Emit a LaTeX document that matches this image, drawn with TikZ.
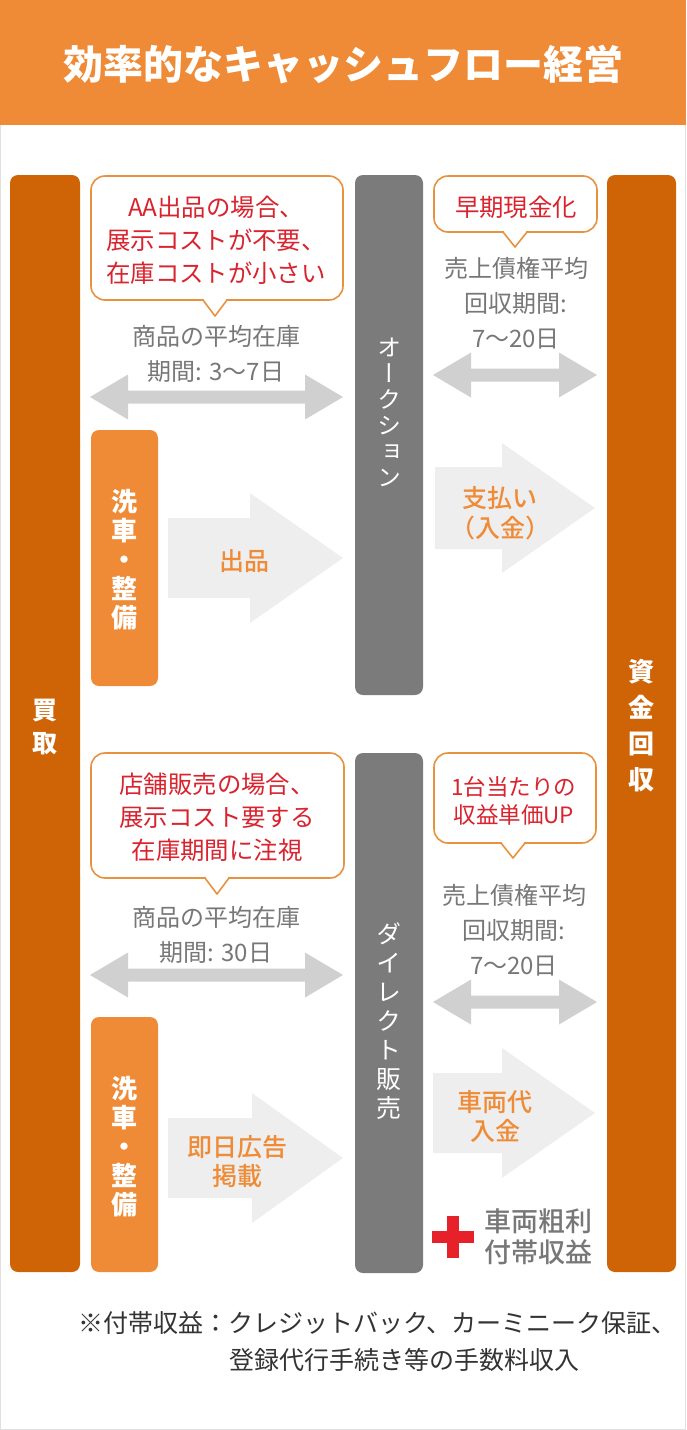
\documentclass[tikz,border=0pt]{standalone}
\usepackage{fontspec}
\setmainfont{Noto Sans CJK JP}
\newfontfamily\jpv[RawFeature=+vert]{Noto Sans CJK JP}
\newfontfamily\jpmed{Noto Sans CJK JP Medium}
\definecolor{hdorange}{HTML}{EF8B36}
\definecolor{deeporange}{HTML}{CF6407}
\definecolor{colgray}{HTML}{7B7B7B}
\definecolor{txtgray}{HTML}{777777}
\definecolor{notered}{HTML}{D9232E}
\definecolor{bubbleline}{HTML}{E8913E}
\definecolor{dblgray}{HTML}{D0D0D0}
\definecolor{flowgray}{HTML}{EEEEEE}
\definecolor{plusred}{HTML}{E62129}

\begin{document}
\begin{tikzpicture}[x=0.5pt,y=-0.5pt,line join=round,
  bar/.style={rounded corners=4pt},
  bubble/.style={draw=bubbleline,line width=0.8pt,fill=white},
  note/.style={text=notered,align=center,inner sep=0pt,font=\fontsize{12.2}{16.5}\selectfont},
  period/.style={text=txtgray,align=center,inner sep=0pt,font=\fontsize{12}{17.5}\selectfont},
  vlabel/.style={text=white,align=center,inner sep=0pt},
  flow/.style={text=hdorange,align=center,inner sep=0pt,font=\jpmed\fontsize{12.5}{14.5}\selectfont}]
\useasboundingbox (0,0) rectangle (686,1430);
\fill[hdorange] (0,0) rectangle (686,125);
\draw[black!12,line width=0.5pt] (0.5,125) -- (0.5,1429.5) -- (685.5,1429.5) -- (685.5,125);
\node[text=white,inner sep=0pt,font=\bfseries\fontsize{20}{24}\selectfont] (title) at (343,65) {効率的なキャッシュフロー経営};

\fill[deeporange,bar] (10,175) rectangle (80,1272);
\fill[deeporange,bar] (607,175) rectangle (676,1272);
\fill[colgray,bar] (355,175) rectangle (423,695);
\fill[colgray,bar] (355,753) rectangle (423,1273);
\fill[hdorange,bar] (91,430) rectangle (158,686);
\fill[hdorange,bar] (91,1017) rectangle (158,1272);
\node[vlabel,font=\bfseries\fontsize{12.5}{16.5}\selectfont] (buy) at (45,727) {買\\取};
\node[vlabel,font=\bfseries\fontsize{13}{18}\selectfont] (fund) at (641,726) {資\\金\\回\\収};
\node[vlabel,font=\jpv\fontsize{12}{13}\selectfont] (auction) at (389,412) {オ\\ー\\ク\\シ\\ョ\\ン};
\node[vlabel,font=\jpv\fontsize{12.5}{14.5}\selectfont] (direct) at (389,1021) {ダ\\イ\\レ\\ク\\ト\\販\\売};
\node[vlabel,font=\bfseries\fontsize{13}{14.5}\selectfont] (prepA) at (124,560) {洗\\車\\・\\整\\備};
\node[vlabel,font=\bfseries\fontsize{13}{14.5}\selectfont] (prepB) at (124,1147) {洗\\車\\・\\整\\備};

\draw[bubble,rounded corners=7pt] (91,176) rectangle (343,300);
\fill[white] (204,298) rectangle (226,302);
\filldraw[bubble] (203,300) -- (215,316) -- (227,300);
\node[note] (costA) at (216,240) {AA出品の場合、\\展示コストが不要、\\在庫コストが小さい};
\draw[bubble,rounded corners=7pt] (434,176) rectangle (597,232);
\fill[white] (504,230) rectangle (526,234);
\filldraw[bubble] (503,232) -- (515,247) -- (527,232);
\node[note] (cashA) at (516,207) {早期現金化};
\draw[bubble,rounded corners=7pt] (91,753) rectangle (344,878);
\fill[white] (206,876) rectangle (228,880);
\filldraw[bubble] (205,878) -- (217,894) -- (229,878);
\node[note] (costB) at (217,817) {店舗販売の場合、\\展示コスト要する\\在庫期間に注視};
\draw[bubble,rounded corners=7pt] (434,753) rectangle (596,843);
\fill[white] (502,841) rectangle (524,845);
\filldraw[bubble] (501,843) -- (513,858) -- (525,843);
\node[note,font=\fontsize{11.25}{14}\selectfont] (cashB) at (514,801) {1台当たりの\\収益単価UP};

\node[period] (stockA) at (216,354) {商品の平均在庫\\期間: 3〜7日};
\node[period] (termA) at (516,303) {売上債権平均\\回収期間:\\7〜20日};
\node[period] (stockB) at (216,935) {商品の平均在庫\\期間: 30日};
\node[period] (termB) at (514,930) {売上債権平均\\回収期間:\\7〜20日};
\fill[dblgray] (90,397) -- ++(38,-22.5) -- ++(0,16) -- ++(177,0) -- ++(0,-16) -- ++(38,22.5) -- ++(-38,22.5) -- ++(0,-16) -- ++(-177,0) -- ++(0,16) -- cycle;
\fill[dblgray] (433,375) -- ++(38,-22.5) -- ++(0,16) -- ++(88,0) -- ++(0,-16) -- ++(38,22.5) -- ++(-38,22.5) -- ++(0,-16) -- ++(-88,0) -- ++(0,16) -- cycle;
\fill[dblgray] (90,975) -- ++(38,-22.5) -- ++(0,16) -- ++(177,0) -- ++(0,-16) -- ++(38,22.5) -- ++(-38,22.5) -- ++(0,-16) -- ++(-177,0) -- ++(0,16) -- cycle;
\fill[dblgray] (433,1002) -- ++(38,-22.5) -- ++(0,16) -- ++(88,0) -- ++(0,-16) -- ++(38,22.5) -- ++(-38,22.5) -- ++(0,-16) -- ++(-88,0) -- ++(0,16) -- cycle;

\fill[flowgray] (168,518) -- (250,518) -- (250,493) -- (343,558) -- (250,623) -- (250,598) -- (168,598) -- cycle;
\fill[flowgray] (435,467) -- (502,467) -- (502,443) -- (595,508) -- (502,573) -- (502,549) -- (435,549) -- cycle;
\fill[flowgray] (168,1118) -- (252,1118) -- (252,1093) -- (343,1158) -- (252,1223) -- (252,1198) -- (168,1198) -- cycle;
\fill[flowgray] (433,1073) -- (502,1073) -- (502,1048) -- (595,1113) -- (502,1178) -- (502,1153) -- (433,1153) -- cycle;
\node[flow] (listA) at (244,561) {出品};
\node[flow,font=\jpmed\fontsize{12.5}{15}\selectfont] (payA) at (500,513) {支払い\\（入金）};
\node[flow] (listB) at (237,1161) {即日広告\\掲載};
\node[flow] (payB) at (495,1116) {車両代\\入金};

\fill[plusred] (432,1231) rectangle (474,1243);
\fill[plusred] (447,1216) rectangle (459,1258);
\node[text=txtgray,align=center,inner sep=0pt,font=\jpmed\fontsize{13.5}{15.5}\selectfont] (gain) at (538,1237) {車両粗利\\付帯収益};

\node[anchor=west,inner sep=0pt,text=black!80,font=\fontsize{12.5}{14}\selectfont] (foot1) at (78,1323) {※付帯収益：クレジットバック、カーミニーク保証、};
\node[anchor=west,inner sep=0pt,text=black!80,font=\fontsize{12.5}{14}\selectfont] (foot2) at (229,1360) {登録代行手続き等の手数料収入};
\end{tikzpicture}
\end{document}
